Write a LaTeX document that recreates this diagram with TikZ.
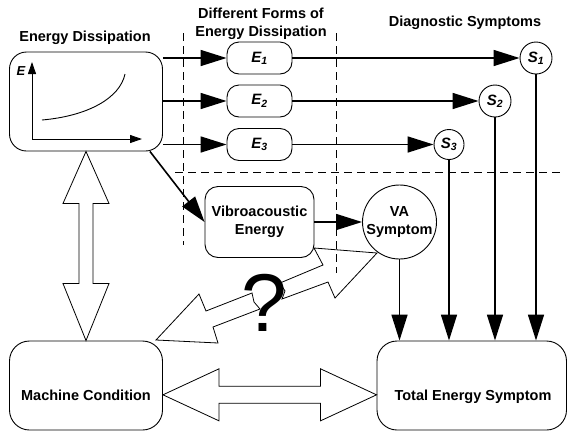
\documentclass[tikz,border=0pt]{standalone}
\usepackage{fontspec}
\setmainfont{Liberation Sans}
\usetikzlibrary{arrows.meta,calc}
\begin{document}
\begin{tikzpicture}[x=1pt,y=-1pt,
  lbl/.style={font=\bfseries\fontsize{14.5}{18}\selectfont, align=center, inner sep=0pt},
  rbox/.style={draw, line width=0.9pt, inner sep=0pt, align=center, font=\bfseries\fontsize{14.5}{17.5}\selectfont},
  ebox/.style={rbox, rounded corners=12pt, minimum width=65pt, minimum height=32pt, font=\bfseries\itshape\fontsize{15}{17}\selectfont},
  scirc/.style={draw, circle, line width=0.9pt, inner sep=0pt, minimum size=32pt, font=\bfseries\itshape\fontsize{15}{17}\selectfont},
  conn/.style={line width=1.6pt, -{Triangle[length=26pt,width=16pt]}},
  axis/.style={line width=0.9pt, -{Triangle[length=12pt,width=8pt]}},
  sep/.style={dashed, dash pattern=on 8pt off 5pt, line width=0.8pt},
  hollow/.style={draw, line width=0.8pt, line join=miter}
]
\useasboundingbox (0,0) rectangle (568,432);

% titles
\node[lbl, anchor=base] (tED) at (85,41.5) {Energy Dissipation};
\node[lbl] (tDF) at (261,23.5) {Different Forms of\\Energy Dissipation};
\node[lbl, anchor=base] (tDS) at (465,26.7) {Diagnostic Symptoms};

% separators
\coordinate (dL1) at (183,33);  \coordinate (dL2) at (183,245);
\coordinate (dR1) at (336,33);  \coordinate (dR2) at (336,273);
\coordinate (dH1) at (175,172); \coordinate (dH2) at (562,172);
\draw[sep] (dL1) -- (dL2);
\draw[sep] (dR1) -- (dR2);
\draw[sep] (dH1) -- (dH2);

% energy dissipation box with graph
\node[rbox, rounded corners=17pt, minimum width=153pt, minimum height=99pt] (ED) at (86,101.5) {};
\coordinate (gO) at (32,139);
\coordinate (gY) at (32,62);
\coordinate (gX) at (142,139);
\draw[axis] (gO) -- (gY);
\draw[axis] (gO) -- (gX);
\coordinate (c0) at (42,120);
\coordinate (c1) at (125,74);
\draw[line width=0.9pt] (c0) .. controls (88,116) and (120,98) .. (c1);
\node[font=\bfseries\itshape\fontsize{13}{15}\selectfont, inner sep=0pt] (gE) at (21,71) {E};

% E boxes
\node[ebox] (E1) at (259.5,58) {E\textsubscript{1}};
\node[ebox] (E2) at (259.5,101) {E\textsubscript{2}};
\node[ebox] (E3) at (259.5,144.5) {E\textsubscript{3}};

% S circles
\node[scirc] (S1) at (536,58) {S\textsubscript{1}};
\node[scirc] (S2) at (495,101) {S\textsubscript{2}};
\node[scirc, minimum size=30pt] (S3) at (449,144.5) {S\textsubscript{3}};

% vibroacoustic
\node[rbox, rounded corners=13pt, minimum width=109pt, minimum height=71pt] (VE) at (259.5,222) {Vibroacoustic\\Energy};
\node[rbox, circle, minimum size=74pt] (VA) at (399.5,222) {VA\\Symptom};

% bottom boxes
\node[rbox, rounded corners=20pt, minimum width=153pt, minimum height=89pt] (MC) at (86,385.5) {};
\node[lbl, anchor=base] (MCt) at (86,400) {Machine Condition};
\node[rbox, rounded corners=20pt, minimum width=189.5pt, minimum height=89pt] (TES) at (471.75,385.5) {};
\node[lbl, anchor=base] (TESt) at (473,400) {Total Energy Symptom};

% arrows
\draw[conn] (ED.east |- E1) -- (E1);
\draw[conn] (ED.east |- E2) -- (E2);
\draw[conn] (ED.east |- E3) -- (E3);
\draw[conn] (E1) -- (S1);
\draw[conn] (E2) -- (S2);
\draw[conn] (E3) -- (S3);
\draw[conn] (ED.-38) -- (VE.west);
\draw[conn] (VE) -- (VA);
\draw[conn] (VA) -- (VA |- TES.north);
\draw[conn] (S3) -- (S3 |- TES.north);
\draw[conn] (S2) -- (S2 |- TES.north);
\draw[conn] (S1) -- (S1 |- TES.north);

% vertical hollow double arrow
\coordinate (vT) at (ED.south);
\coordinate (vB) at (MC.north);
\draw[hollow] (vT) -- ($(vT)+(23,52)$) -- ($(vT)+(7,52)$) -- ($(vB)+(7,-57)$) -- ($(vB)+(23,-57)$)
  -- (vB) -- ($(vB)+(-23,-57)$) -- ($(vB)+(-7,-57)$) -- ($(vT)+(-7,52)$) -- ($(vT)+(-23,52)$) -- cycle;

% horizontal hollow double arrow
\coordinate (hL) at (MC.east |- MCt);
\coordinate (hR) at (TES.west |- MCt);
\draw[hollow] (hL) -- ($(hL)+(56,-26)$) -- ($(hL)+(56,-8.5)$) -- ($(hR)+(-56,-8.5)$) -- ($(hR)+(-56,-26)$)
  -- (hR) -- ($(hR)+(-56,26)$) -- ($(hR)+(-56,8.5)$) -- ($(hL)+(56,8.5)$) -- ($(hL)+(56,26)$) -- cycle;

% lightning arrow (broken by question mark)
\draw[hollow] (280,283) -- (323,265) -- (314,248) -- (377,253) -- (335,298) -- (328,282) -- (282,299) -- (285,291) -- cycle;
\draw[hollow] (252,293) -- (206,311) -- (199,294) -- (156,340) -- (218,343) -- (213,327) -- (260,309) -- (254,302) -- cycle;
\node[font=\fontsize{82}{82}\selectfont, inner sep=0pt, anchor=base] (q) at (264,331) {?};

\end{tikzpicture}
\end{document}
